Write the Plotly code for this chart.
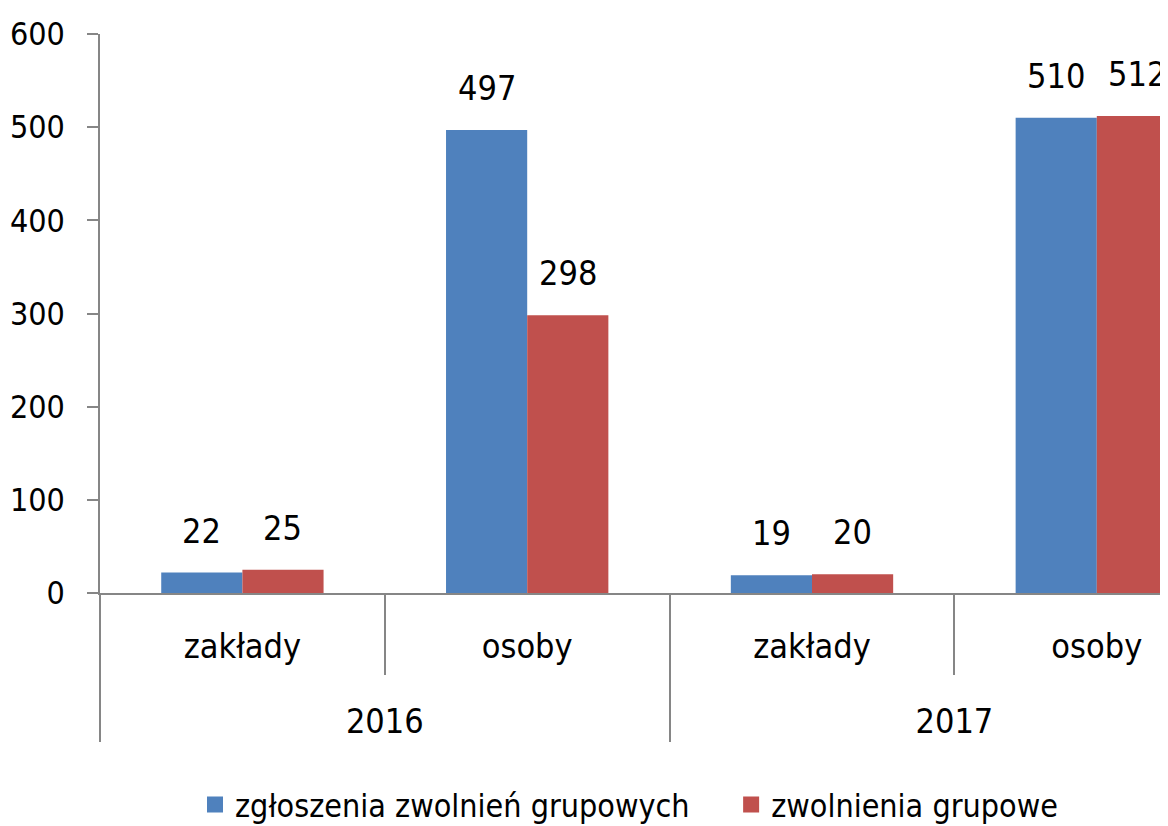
import plotly.graph_objects as go

years = ["2016", "2016", "2017", "2017"]
cats = ["zakłady", "osoby", "zakłady", "osoby"]
zgloszenia = [22, 497, 19, 510]
zwolnienia = [25, 298, 20, 512]
series_names = ["zgłoszenia zwolnień grupowych", "zwolnienia grupowe"]
colors = ["#4F81BD", "#C0504D"]
y_ticks = [0, 100, 200, 300, 400, 500, 600]

FONT = "Liberation Sans Narrow, DejaVu Sans Condensed, sans-serif"
AX = "#868686"
FS = 34

W, H = 1160, 818          # page body has an 8px margin
ML, MT, MB = 92, 26, 233
X_RANGE = [-0.5, 3.25]
PLOT_W = W - ML
BARGAP = 0.43
cat_px = PLOT_W / (X_RANGE[1] - X_RANGE[0])
bar_px = cat_px * (1 - BARGAP) / 2

# primary-level labels get an empty taller second line to push the year row down
cat_labels = [c + "<br><span style='font-size:80px'>\u00a0</span>" for c in cats]
# legend labels: extra trailing space widens the gap between the two entries
legend_labels = [series_names[0] + "\u00a0" * 4, series_names[1]]

fig = go.Figure()
for name, vals, col in zip(series_names, [zgloszenia, zwolnienia], colors):
    fig.add_trace(go.Bar(x=[years, cat_labels], y=vals, name=name, showlegend=False,
                         marker=dict(color=col, line=dict(width=0))))
# legend entries with larger square swatches (no visible points)
for name, col in zip(legend_labels, colors):
    fig.add_trace(go.Scatter(x=[years[:1], cat_labels[:1]], y=[None], mode="markers",
                             name=name,
                             marker=dict(symbol="square", size=18, color=col,
                                         line=dict(width=0)),
                             hoverinfo="skip"))

annotations = []
for j, vals in enumerate([zgloszenia, zwolnienia]):
    for i, v in enumerate(vals):
        annotations.append(dict(x=i, y=v, xref="x", yref="y", text=str(v),
                                showarrow=False, xanchor="center", yanchor="bottom",
                                xshift=(j - 0.5) * bar_px, yshift=20,
                                font=dict(family=FONT, size=FS, color="#000000")))

fig.update_layout(
    width=W, height=H,
    margin=dict(l=ML, r=0, t=MT, b=MB),
    paper_bgcolor="white", plot_bgcolor="white",
    font=dict(family=FONT, size=FS, color="#000000"),
    barmode="group", bargap=BARGAP, bargroupgap=0,
    showlegend=True,
    legend=dict(orientation="h", x=187 / W, xanchor="left", xref="container",
                y=0.026, yanchor="middle", yref="container",
                font=dict(size=32), itemwidth=30, traceorder="normal"),
    annotations=annotations,
)
fig.update_xaxes(type="multicategory", range=X_RANGE, automargin=False,
                 showline=True, linecolor=AX, linewidth=1.5,
                 ticks="outside", tickson="boundaries", ticklen=80,
                 tickcolor=AX, tickwidth=1.5, showdividers=True, dividercolor=AX,
                 dividerwidth=1.5, showgrid=False, zeroline=False, ticklabelstandoff=22)
fig.update_yaxes(range=[0, 600], tickvals=y_ticks, automargin=False,
                 showline=True, linecolor=AX, tickfont=dict(size=32),
                 linewidth=1.5, ticks="outside", ticklen=11, tickcolor=AX, tickwidth=1.5,
                 showgrid=False, zeroline=False, ticklabelstandoff=16)

fig.write_html("out.html")
